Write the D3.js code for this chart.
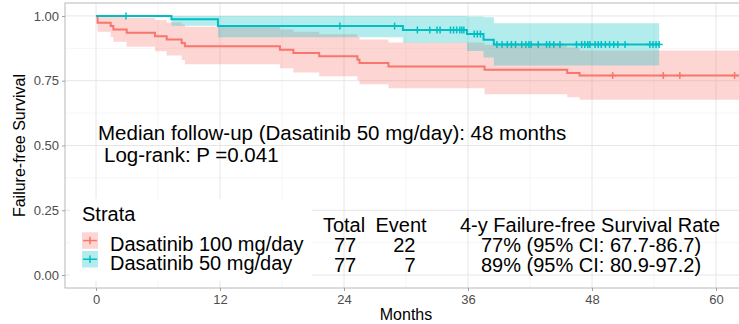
<!DOCTYPE html>
<html>
<head>
<meta charset="utf-8">
<script src="https://cdn.jsdelivr.net/npm/d3@7"></script>
<style>
  html, body { margin: 0; padding: 0; background: #fff; }
  svg { display: block; font-family: "Liberation Sans", Arial, sans-serif; }
</style>
</head>
<body>
<svg id="chart" width="739" height="324"></svg>
<script>
// Kaplan-Meier estimates, failure-free survival by dasatinib dose (months)
const strata = ["Dasatinib 100 mg/day", "Dasatinib 50 mg/day"];
const strataColors = ["#F8766D", "#00BFC4"];

// Dasatinib 100 mg/day
const redTimes = [0, 0.15, 1.42, 1.68, 2.97, 5.71, 6.84, 8.29, 8.6, 17.8, 19.1, 21.6, 25.3, 25.5, 28.3, 37.6, 45.6, 46.8, 64];
const redSurv  = [1, 0.974, 0.961, 0.948, 0.935, 0.922, 0.909, 0.896, 0.883, 0.870, 0.857, 0.844, 0.831, 0.818, 0.805, 0.792, 0.780, 0.770, 0.770];
const redLower = [1, 0.939, 0.919, 0.900, 0.881, 0.864, 0.847, 0.830, 0.814, 0.798, 0.782, 0.767, 0.752, 0.736, 0.721, 0.698, 0.686, 0.677, 0.677];
const redUpper = [1, 1, 1, 0.999, 0.992, 0.984, 0.975, 0.967, 0.958, 0.948, 0.939, 0.929, 0.919, 0.909, 0.898, 0.889, 0.878, 0.867, 0.867];
const redCensor = [50.0, 54.9, 56.5, 61.8];

// Dasatinib 50 mg/day
const tealTimes = [0, 7.3, 11.8, 29.7, 35.9, 37.5, 38.5, 54.5];
const tealSurv  = [1, 0.987, 0.961, 0.946, 0.930, 0.908, 0.890, 0.890];
const tealLower = [1, 0.962, 0.918, 0.897, 0.865, 0.840, 0.809, 0.809];
const tealUpper = [1, 1, 1, 1, 0.998, 0.995, 0.972, 0.972];
const tealCensor = [2.9, 23.6, 28.9, 31.1, 32.3, 33.0, 33.3, 34.3, 34.6, 34.9, 35.2, 35.4, 35.6,
  36.6, 36.9, 37.2, 38.8, 39.3, 39.8, 40.2, 40.6, 41.2, 41.6, 41.9, 42.1, 42.8, 43.6, 43.9, 44.3,
  44.9, 46.5, 47.0, 47.3, 47.6, 47.8, 48.3, 48.6, 48.9, 49.3, 49.7, 50.1, 50.5, 51.2, 53.6, 53.9,
  54.2, 54.5];

// Axis ticks
const xTicks = [0, 12, 24, 36, 48, 60];
const xMinor = [6, 18, 30, 42, 54];
const yTicks = [0, 0.25, 0.5, 0.75, 1];
const yMinor = [0.125, 0.375, 0.625, 0.875];

// Annotations and summary table
const annotationLines = ["Median follow-up (Dasatinib 50 mg/day): 48 months", "Log-rank: P =0.041"];
const tableHeader = ["Total", "Event", "4-y Failure-free Survival Rate"];
const totals = [77, 77];
const events = [22, 7];
const rates = ["77% (95% CI: 67.7-86.7)", "89% (95% CI: 80.9-97.2)"];

const svg = d3.select("#chart");

const panel = { left: 65, right: 747, top: 3, bottom: 288 };
const x = d3.scaleLinear().domain([-3, 63]).range([panel.left, panel.right]);
const y = d3.scaleLinear().domain([-0.05, 1.05]).range([panel.bottom, panel.top]);

svg.append("defs").append("clipPath").attr("id", "panel-clip")
  .append("rect")
  .attr("x", panel.left).attr("y", panel.top)
  .attr("width", panel.right - panel.left).attr("height", panel.bottom - panel.top);

// Grid
const grid = svg.append("g");
grid.selectAll(".xminor").data(xMinor).join("line")
  .attr("x1", d => x(d)).attr("x2", d => x(d))
  .attr("y1", panel.top).attr("y2", panel.bottom)
  .attr("stroke", "#F2F2F2").attr("stroke-width", 0.8);
grid.selectAll(".yminor").data(yMinor).join("line")
  .attr("y1", d => y(d)).attr("y2", d => y(d))
  .attr("x1", panel.left).attr("x2", panel.right)
  .attr("stroke", "#F2F2F2").attr("stroke-width", 0.8);
grid.selectAll(".xmajor").data(xTicks).join("line")
  .attr("x1", d => x(d)).attr("x2", d => x(d))
  .attr("y1", panel.top).attr("y2", panel.bottom)
  .attr("stroke", "#E6E6E6").attr("stroke-width", 1);
grid.selectAll(".ymajor").data(yTicks).join("line")
  .attr("y1", d => y(d)).attr("y2", d => y(d))
  .attr("x1", panel.left).attr("x2", panel.right)
  .attr("stroke", "#E6E6E6").attr("stroke-width", 1);

const series = [
  { times: redTimes, surv: redSurv, lower: redLower, upper: redUpper, censor: redCensor, color: strataColors[0] },
  { times: tealTimes, surv: tealSurv, lower: tealLower, upper: tealUpper, censor: tealCensor, color: strataColors[1] }
];

const plot = svg.append("g").attr("clip-path", "url(#panel-clip)");

// Confidence bands
const area = d3.area().curve(d3.curveStepAfter)
  .x(d => x(d.t)).y0(d => y(d.lo)).y1(d => y(d.hi));
series.forEach(s => {
  const pts = s.times.map((t, i) => ({ t, lo: s.lower[i], hi: s.upper[i] }));
  plot.append("path").datum(pts).attr("d", area)
    .attr("fill", s.color).attr("fill-opacity", 0.3).attr("stroke", "none");
});

// Survival curves
const line = d3.line().curve(d3.curveStepAfter).x(d => x(d.t)).y(d => y(d.s));
series.forEach(s => {
  const pts = s.times.map((t, i) => ({ t, s: s.surv[i] }));
  plot.append("path").datum(pts).attr("d", line)
    .attr("fill", "none").attr("stroke", s.color).attr("stroke-width", 2);
});

// Censoring marks
function survAt(s, t) {
  const i = d3.bisectRight(s.times, t) - 1;
  return s.surv[Math.max(0, i)];
}
series.forEach(s => {
  const g = plot.append("g").attr("stroke", s.color).attr("stroke-width", 1.5);
  s.censor.forEach(t => {
    const cx = x(t), cy = y(survAt(s, t));
    g.append("line").attr("x1", cx).attr("x2", cx).attr("y1", cy - 3.5).attr("y2", cy + 3.5);
    g.append("line").attr("x1", cx - 3.5).attr("x2", cx + 3.5).attr("y1", cy).attr("y2", cy);
  });
});

// Panel border
svg.append("rect")
  .attr("x", panel.left).attr("y", panel.top)
  .attr("width", panel.right - panel.left).attr("height", panel.bottom - panel.top)
  .attr("fill", "none").attr("stroke", "#B8B8B8").attr("stroke-width", 1);

// Axes
const xAxis = svg.append("g").attr("transform", `translate(0,${panel.bottom})`)
  .call(d3.axisBottom(x).tickValues(xTicks).tickSize(3).tickPadding(4).tickFormat(d3.format("d")));
const yAxis = svg.append("g").attr("transform", `translate(${panel.left},0)`)
  .call(d3.axisLeft(y).tickValues(yTicks).tickSize(3).tickPadding(3).tickFormat(d3.format(".2f")));
[xAxis, yAxis].forEach(a => {
  a.select(".domain").remove();
  a.selectAll(".tick line").attr("stroke", "#A0A0A0");
  a.selectAll(".tick text").attr("fill", "#4D4D4D").style("font-size", "13px")
    .style("font-family", "'Liberation Sans', Arial, sans-serif");
});

svg.append("text").attr("x", x(30)).attr("y", 320).attr("text-anchor", "middle")
  .style("font-size", "16px").attr("fill", "#000").text("Months");
svg.append("text").attr("transform", `translate(25,${y(0.5)}) rotate(-90)`)
  .attr("text-anchor", "middle").style("font-size", "16px").attr("fill", "#000")
  .text("Failure-free Survival");

// Annotations
svg.append("text").attr("x", 98).attr("y", 140).style("font-size", "20.5px").text(annotationLines[0]);
svg.append("text").attr("x", 104).attr("y", 161.5).style("font-size", "20.5px").text(annotationLines[1]);

// Legend
const legend = svg.append("g");
legend.append("rect").attr("x", 70).attr("y", 199).attr("width", 242).attr("height", 82).attr("fill", "#fff");
legend.append("text").attr("x", 82).attr("y", 220.5).style("font-size", "20px").text("Strata");
const rowY = [251.3, 270];
strata.forEach((name, i) => {
  const ky = rowY[i] - 19;
  legend.append("rect").attr("x", 82).attr("y", ky).attr("width", 16).attr("height", 16.5)
    .attr("fill", strataColors[i]).attr("fill-opacity", 0.3);
  legend.append("line").attr("x1", 83).attr("x2", 97).attr("y1", ky + 8.25).attr("y2", ky + 8.25)
    .attr("stroke", strataColors[i]).attr("stroke-width", 1.5);
  legend.append("line").attr("x1", 90).attr("x2", 90).attr("y1", ky + 4.5).attr("y2", ky + 12)
    .attr("stroke", strataColors[i]).attr("stroke-width", 1.5);
  legend.append("text").attr("x", 110).attr("y", rowY[i]).style("font-size", "20px").text(name);
});

// Summary table
const table = svg.append("g").style("font-size", "20px");
table.append("text").attr("x", 344).attr("y", 231.5).attr("text-anchor", "middle").text(tableHeader[0]);
table.append("text").attr("x", 401).attr("y", 231.5).attr("text-anchor", "middle").text(tableHeader[1]);
table.append("text").attr("x", 590).attr("y", 231.5).attr("text-anchor", "middle").text(tableHeader[2]);
const tableY = [251.7, 271.5];
totals.forEach((v, i) => {
  table.append("text").attr("x", 345).attr("y", tableY[i]).attr("text-anchor", "middle").text(v);
  table.append("text").attr("x", 415.5).attr("y", tableY[i]).attr("text-anchor", "end").text(events[i]);
  table.append("text").attr("x", 591).attr("y", tableY[i]).attr("text-anchor", "middle").text(rates[i]);
});
</script>
</body>
</html>
